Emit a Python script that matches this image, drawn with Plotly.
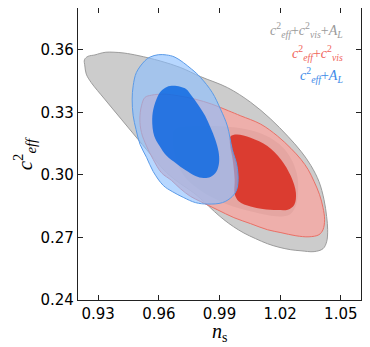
import plotly.graph_objects as go

# contour boundaries (n_s, c_eff^2)
gray_out_ns = [0.9232, 0.9249, 0.9284, 0.9308, 0.9338, 0.9378, 0.9428, 0.9497, 0.9607, 0.9706,
               0.9806, 0.9940, 1.0054, 1.0154, 1.0238, 1.0303, 1.0352, 1.0392, 1.0417, 1.0430,
               1.0435, 1.0430, 1.0412, 1.0368, 1.0303, 1.0253, 1.0194, 1.0137, 1.0079, 1.0021,
               0.9970, 0.9922, 0.9875, 0.9839, 0.9772, 0.9706, 0.9637, 0.9580, 0.9497, 0.9414,
               0.9332, 0.9265, 0.9241, 0.9234]
gray_out_c2 = [0.3552, 0.3568, 0.3575, 0.3582, 0.3588, 0.3588, 0.3584, 0.3572, 0.3546, 0.3515,
               0.3471, 0.3418, 0.3348, 0.3267, 0.3185, 0.3113, 0.3045, 0.2968, 0.2881, 0.2800,
               0.2737, 0.2679, 0.2646, 0.2632, 0.2636, 0.2641, 0.2653, 0.2670, 0.2694, 0.2721,
               0.2751, 0.2785, 0.2824, 0.2857, 0.2914, 0.2958, 0.3011, 0.3074, 0.3170, 0.3267,
               0.3363, 0.3443, 0.3483, 0.3522]

gray_in_ns = [0.9676, 0.9706, 0.9806, 0.9905, 1.0005, 1.0089, 1.0164, 1.0223, 1.0263, 1.0286,
              1.0288, 1.0278, 1.0253, 1.0218, 1.0154, 1.0079, 1.0005, 0.9930, 0.9855, 0.9786,
              0.9731, 0.9696, 0.9676, 0.9669]
gray_in_c2 = [0.3214, 0.3228, 0.3233, 0.3233, 0.3223, 0.3204, 0.3170, 0.3122, 0.3060, 0.2987,
              0.2915, 0.2853, 0.2814, 0.2802, 0.2804, 0.2819, 0.2838, 0.2862, 0.2896, 0.2939,
              0.2987, 0.3045, 0.3113, 0.3170]

red_out_ns = [0.9506, 0.9514, 0.9531, 0.9564, 0.9630, 0.9696, 0.9779, 0.9862, 0.9945, 1.0005,
              1.0104, 1.0187, 1.0253, 1.0303, 1.0338, 1.0368, 1.0395, 1.0412, 1.0420, 1.0412,
              1.0392, 1.0343, 1.0278, 1.0204, 1.0137, 1.0054, 0.9971, 0.9889, 0.9806, 0.9756,
              0.9706, 0.9663, 0.9613, 0.9572, 0.9539, 0.9514]
red_out_c2 = [0.3267, 0.3331, 0.3371, 0.3382, 0.3387, 0.3379, 0.3363, 0.3339, 0.3307, 0.3283,
              0.3243, 0.3186, 0.3127, 0.3074, 0.3026, 0.2968, 0.2905, 0.2843, 0.2785, 0.2737,
              0.2713, 0.2703, 0.2708, 0.2723, 0.2737, 0.2766, 0.2795, 0.2833, 0.2872, 0.2897,
              0.2934, 0.2973, 0.3010, 0.3074, 0.3138, 0.3203]

red_in_ns = [0.9955, 0.9985, 1.0054, 1.0137, 1.0204, 1.0253, 1.0278, 1.0270, 1.0238, 1.0187,
             1.0114, 1.0054, 0.9995, 0.9975, 0.9975, 0.9965, 0.9952]
red_in_c2 = [0.3185, 0.3194, 0.3178, 0.3138, 0.3074, 0.2994, 0.2914, 0.2857, 0.2833, 0.2831,
             0.2836, 0.2848, 0.2874, 0.2910, 0.2978, 0.3074, 0.3146]

blue_out_ns = [0.9597, 0.9637, 0.9680, 0.9762, 0.9806, 0.9864, 0.9905, 0.9939, 0.9963, 0.9985,
               0.9992, 0.9985, 0.9963, 0.9915, 0.9841, 0.9781, 0.9723, 0.9666, 0.9622, 0.9572,
               0.9539, 0.9507, 0.9487, 0.9473, 0.9468, 0.9473, 0.9489, 0.9531, 0.9557]
blue_out_c2 = [0.3576, 0.3575, 0.3564, 0.3507, 0.3467, 0.3395, 0.3315, 0.3234, 0.3122, 0.3050,
               0.2978, 0.2930, 0.2896, 0.2867, 0.2860, 0.2867, 0.2891, 0.2920, 0.2949, 0.3016,
               0.3084, 0.3146, 0.3218, 0.3283, 0.3363, 0.3427, 0.3491, 0.3547, 0.3565]

blue_in_ns = [0.9663, 0.9706, 0.9736, 0.9762, 0.9796, 0.9829, 0.9855, 0.9879, 0.9895, 0.9898,
              0.9885, 0.9855, 0.9821, 0.9781, 0.9731, 0.9686, 0.9637, 0.9602, 0.9577, 0.9567,
              0.9577, 0.9605, 0.9632]
blue_in_c2 = [0.3427, 0.3423, 0.3411, 0.3379, 0.3334, 0.3283, 0.3228, 0.3170, 0.3113, 0.3060,
              0.3016, 0.2990, 0.2985, 0.2995, 0.3023, 0.3055, 0.3093, 0.3141, 0.3186, 0.3267,
              0.3331, 0.3395, 0.3418]

x_ticks = [0.93, 0.96, 0.99, 1.02, 1.05]
y_ticks = [0.24, 0.27, 0.30, 0.33, 0.36]

legend_labels = [
    "<i>c</i><sup>2</sup><sub><i>eff</i></sub>+<i>c</i><sup>2</sup><sub><i>vis</i></sub>+<i>A</i><sub><i>L</i></sub>",
    "<i>c</i><sup>2</sup><sub><i>eff</i></sub>+<i>c</i><sup>2</sup><sub><i>vis</i></sub>",
    "<i>c</i><sup>2</sup><sub><i>eff</i></sub>+<i>A</i><sub><i>L</i></sub>",
]
legend_colors = ["#9a9a9a", "#f0645a", "#3d8ae8"]

MATH_FONT = "Liberation Serif"


def closed(a):
    return list(a) + [a[0]]


fig = go.Figure()

# ── contours, back to front ──────────────────────────────────────────────────
layers = [
    (gray_out_ns, gray_out_c2, "rgb(204,204,204)", "#9c9c9c", 1.0),
    (gray_in_ns,  gray_in_c2,  "rgb(160,160,160)", None, 0),
    (red_out_ns,  red_out_c2,  "rgba(246,168,162,0.8)", "#ea7066", 1.0),
    (red_in_ns,   red_in_c2,   "rgba(218,51,38,0.92)", None, 0),
    (blue_out_ns, blue_out_c2, "rgba(139,190,255,0.62)", "#5b9be8", 1.0),
    (blue_in_ns,  blue_in_c2,  "rgba(0,98,226,0.78)", None, 0),
]
for xs, ys, fill, edge, lw in layers:
    fig.add_trace(go.Scatter(
        x=closed(xs), y=closed(ys), mode="lines", fill="toself",
        fillcolor=fill,
        line=dict(color=edge if edge else "rgba(0,0,0,0)", width=lw,
                  shape="spline", smoothing=1.0),
        hoverinfo="skip", showlegend=False,
    ))

# ── legend text ──────────────────────────────────────────────────────────────
for i, (lab, col) in enumerate(zip(legend_labels, legend_colors)):
    fig.add_annotation(
        x=0.945, y=0.925 - i * 0.078, xref="paper", yref="paper",
        text=lab, showarrow=False, xanchor="right", yanchor="middle",
        font=dict(size=14, color=col, family=MATH_FONT),
    )

# ── axis titles (placed by hand so margins stay fixed) ───────────────────────
fig.add_annotation(x=0.50, y=-0.112, xref="paper", yref="paper",
                   text="<i>n</i><sub>s</sub>", showarrow=False,
                   xanchor="center", yanchor="middle",
                   font=dict(size=20, color="black", family=MATH_FONT))
fig.add_annotation(x=-0.19, y=0.50, xref="paper", yref="paper",
                   text="<i>c</i><sup>2</sup><sub><i>eff</i></sub>", showarrow=False,
                   textangle=-90, xanchor="center", yanchor="middle",
                   font=dict(size=21, color="black", family=MATH_FONT))

axis_common = dict(
    showgrid=False, zeroline=False, showline=True, linecolor="#222",
    linewidth=1.3, mirror="ticks", ticks="inside", ticklen=5,
    tickwidth=1, tickcolor="#222", automargin=False,
    tickfont=dict(size=15, color="black", family="DejaVu Sans"),
)
fig.update_xaxes(range=[0.92, 1.06], tickvals=x_ticks,
                 ticktext=[f"{v:.2f}" for v in x_ticks], **axis_common)
fig.update_yaxes(range=[0.24, 0.38], tickvals=y_ticks,
                 ticktext=[f"{v:.2f}" for v in y_ticks], **axis_common)

# page body adds an 8px offset, so the figure is trimmed by that much
fig.update_layout(
    width=362, height=339,
    margin=dict(l=70, r=9, t=0, b=47),
    paper_bgcolor="white", plot_bgcolor="white",
    showlegend=False,
)

fig.write_html("out.html")
